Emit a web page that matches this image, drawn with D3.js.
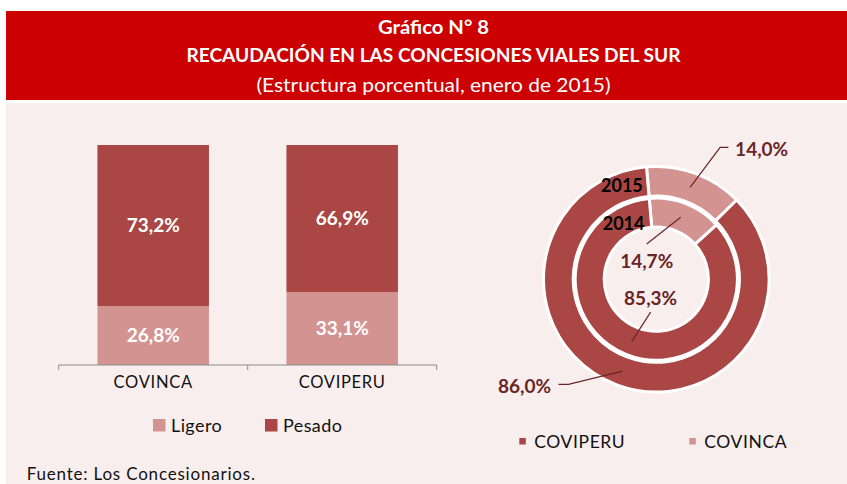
<!DOCTYPE html>
<html>
<head>
<meta charset="utf-8">
<script src="https://cdn.jsdelivr.net/npm/d3@7/dist/d3.min.js"></script>
<style>
  html, body { margin: 0; padding: 0; background: #ffffff; }
  svg { display: block; font-family: Lato, "Open Sans", sans-serif; }
</style>
</head>
<body>
<svg id="chart" width="847" height="484"></svg>
<script>
// ---------------- data ----------------
const titleLines = ["Gráfico N° 8", "RECAUDACIÓN EN LAS CONCESIONES VIALES DEL SUR", "(Estructura porcentual, enero de 2015)"];
const barCategories = ["COVINCA", "COVIPERU"];
const barSeries = ["Ligero", "Pesado"];
const ligero = [26.8, 33.1];
const pesado = [73.2, 66.9];
const donutCategories = ["COVINCA", "COVIPERU"];
const donutYears = ["2014", "2015"];
const share2014 = [14.7, 85.3];
const share2015 = [14.0, 86.0];
const source = "Fuente: Los Concesionarios.";

const fmt = v => d3.format(".1f")(v).replace(".", ",") + "%";

// ---------------- styles ----------------
const RED = "#cc0000", PANEL = "#f9eeee";
const DARK = "#aa4644", LIGHT = "#d39391", LABEL = "#6a2526";
const barColor = d3.scaleOrdinal().domain(barSeries).range([LIGHT, DARK]);
const donutColor = d3.scaleOrdinal().domain(donutCategories).range([LIGHT, DARK]);

const svg = d3.select("#chart");

// background / header
svg.append("rect").attr("x", 6).attr("y", 103).attr("width", 841).attr("height", 381).attr("fill", PANEL);
svg.append("rect").attr("x", 6).attr("y", 11).attr("width", 841).attr("height", 89).attr("fill", RED);

const tl = [
  {y: 34.3, size: 18, weight: 700, len: 111},
  {y: 62.3, size: 19, weight: 700, len: 494},
  {y: 92.3, size: 20, weight: 400, len: 354}
];
titleLines.forEach((t, i) => {
  svg.append("text").attr("x", 433.5).attr("y", tl[i].y).attr("text-anchor", "middle")
    .attr("fill", "#fff").attr("font-size", tl[i].size).attr("font-weight", tl[i].weight)
    .attr("textLength", tl[i].len).attr("lengthAdjust", "spacingAndGlyphs").text(t);
});

// ---------------- stacked bars ----------------
const x = d3.scaleBand().domain(barCategories).range([58.7, 436.7]).paddingInner(0.41).paddingOuter(0.205);
const y = d3.scaleLinear().domain([0, 100]).range([365, 145]);

const table = barCategories.map((c, i) => ({cat: c, Ligero: ligero[i], Pesado: pesado[i]}));
const stacked = d3.stack().keys(barSeries)(table);

const gBars = svg.append("g");
stacked.forEach(layer => {
  const g = gBars.append("g").attr("fill", barColor(layer.key));
  g.selectAll("rect").data(layer).join("rect")
    .attr("x", d => x(d.data.cat)).attr("width", x.bandwidth())
    .attr("y", d => y(d[1])).attr("height", d => y(d[0]) - y(d[1]));
  gBars.selectAll(null).data(layer).join("text")
    .attr("x", d => x(d.data.cat) + x.bandwidth() / 2)
    .attr("y", d => (y(d[0]) + y(d[1])) / 2)
    .attr("dy", "0.35em").attr("text-anchor", "middle")
    .attr("fill", "#fff").attr("font-size", 19).attr("font-weight", 700)
    .text(d => fmt(d.data[layer.key]));
});

// axis
const axisG = svg.append("g").attr("transform", "translate(0,365)");
axisG.call(d3.axisBottom(x).tickSize(0).tickPadding(20));
axisG.select(".domain").attr("stroke", "#8c8c8c").attr("d", "M58.7,0H436.7");
axisG.selectAll(".tick text").attr("font-size", 16.5).attr("fill", "#111").attr("font-family", "Lato, sans-serif")
  .attr("dy", "0.2em").attr("letter-spacing", 0.7);
const step = x.step();
const bounds = d3.range(barCategories.length + 1).map(i => 58.7 + i * step);
axisG.selectAll("line.bound").data(bounds).join("line").attr("class", "bound")
  .attr("x1", d => d).attr("x2", d => d).attr("y1", 0).attr("y2", 5).attr("stroke", "#8c8c8c");

// bar legend
const barLeg = [{k: "Ligero", x: 153}, {k: "Pesado", x: 265}];
const lg = svg.append("g");
barLeg.forEach(l => {
  lg.append("rect").attr("x", l.x).attr("y", 419).attr("width", 12.5).attr("height", 12.5).attr("fill", barColor(l.k));
  lg.append("text").attr("x", l.x + 18).attr("y", 425.7).attr("dy", "0.35em").attr("font-size", 18)
    .attr("fill", "#111").attr("letter-spacing", 0.4).text(l.k);
});

// source
svg.append("text").attr("x", 26.7).attr("y", 479.5).attr("font-size", 17).attr("fill", "#111")
  .attr("letter-spacing", 0.8).text(source);

// ---------------- donut ----------------
const cx = 656.3, cy = 279.2;
const start = -5 * Math.PI / 180;
const pie = d3.pie().sort(null).startAngle(start).endAngle(start + 2 * Math.PI);
const rings = [
  {year: "2014", values: share2014, inner: 52.1, outer: 81.1},
  {year: "2015", values: share2015, inner: 83.1, outer: 112.8}
];
const gD = svg.append("g").attr("transform", `translate(${cx},${cy})`);
rings.forEach(r => {
  const arc = d3.arc().innerRadius(r.inner).outerRadius(r.outer);
  const arcs = pie(r.values).map((a, i) => Object.assign(a, {cat: donutCategories[i]}));
  gD.append("g").selectAll("path").data(arcs).join("path")
    .attr("d", arc).attr("fill", d => donutColor(d.cat))
    .attr("stroke", "#ffffff").attr("stroke-width", 3);
  r.arcs = arcs; r.arc = arc;
});

// label placement offsets (relative to each arc centroid)
const labelLayout = {
  "2015-COVINCA": {pts: [[30, -40], [38.3, -40]], tx: 45, ty: -37.5, anchor: "start"},
  "2015-COVIPERU": {pts: [[-54, 13.3], [-64, 13.3]], tx: -71.4, ty: 15, anchor: "end"},
  "2014-COVINCA": {pts: [[-34, 26.7]], tx: -34, ty: 44.4, anchor: "middle"},
  "2014-COVIPERU": {pts: [[18.7, -29]], tx: 18.7, ty: -42.7, anchor: "middle"}
};
rings.forEach(r => {
  r.arcs.forEach(a => {
    const c = r.arc.centroid(a);
    const L = labelLayout[r.year + "-" + a.cat];
    const line = d3.line()([c].concat(L.pts.map(p => [c[0] + p[0], c[1] + p[1]])));
    gD.append("path").attr("d", line).attr("fill", "none").attr("stroke", LABEL).attr("stroke-width", 1.2);
    gD.append("text").attr("x", c[0] + L.tx).attr("y", c[1] + L.ty).attr("dy", "0.35em")
      .attr("text-anchor", L.anchor).attr("font-size", 19).attr("font-weight", 700)
      .attr("fill", LABEL).text(fmt(a.value));
  });
  // series name at start of ring
  const rm = (r.inner + r.outer) / 2;
  const sx = rm * Math.sin(start), sy = -rm * Math.cos(start);
  const off = r.year === "2015" ? [-5, 4.5] : [-6, 10.5];
  gD.append("text").attr("x", sx + off[0]).attr("y", sy + off[1]).attr("dy", "0.35em")
    .attr("text-anchor", "end").attr("font-size", 18).attr("font-weight", 700).attr("fill", "#000")
    .text(r.year);
});

// donut legend
const dLeg = [{k: "COVIPERU", x: 519.3}, {k: "COVINCA", x: 689.3}];
dLeg.forEach(l => {
  svg.append("rect").attr("x", l.x).attr("y", 438).attr("width", 6.5).attr("height", 6.5).attr("fill", donutColor(l.k));
  svg.append("text").attr("x", l.x + 15).attr("y", 441.7).attr("dy", "0.35em").attr("font-size", 17.5)
    .attr("fill", "#111").attr("letter-spacing", 0.6).text(l.k);
});
</script>
</body>
</html>
